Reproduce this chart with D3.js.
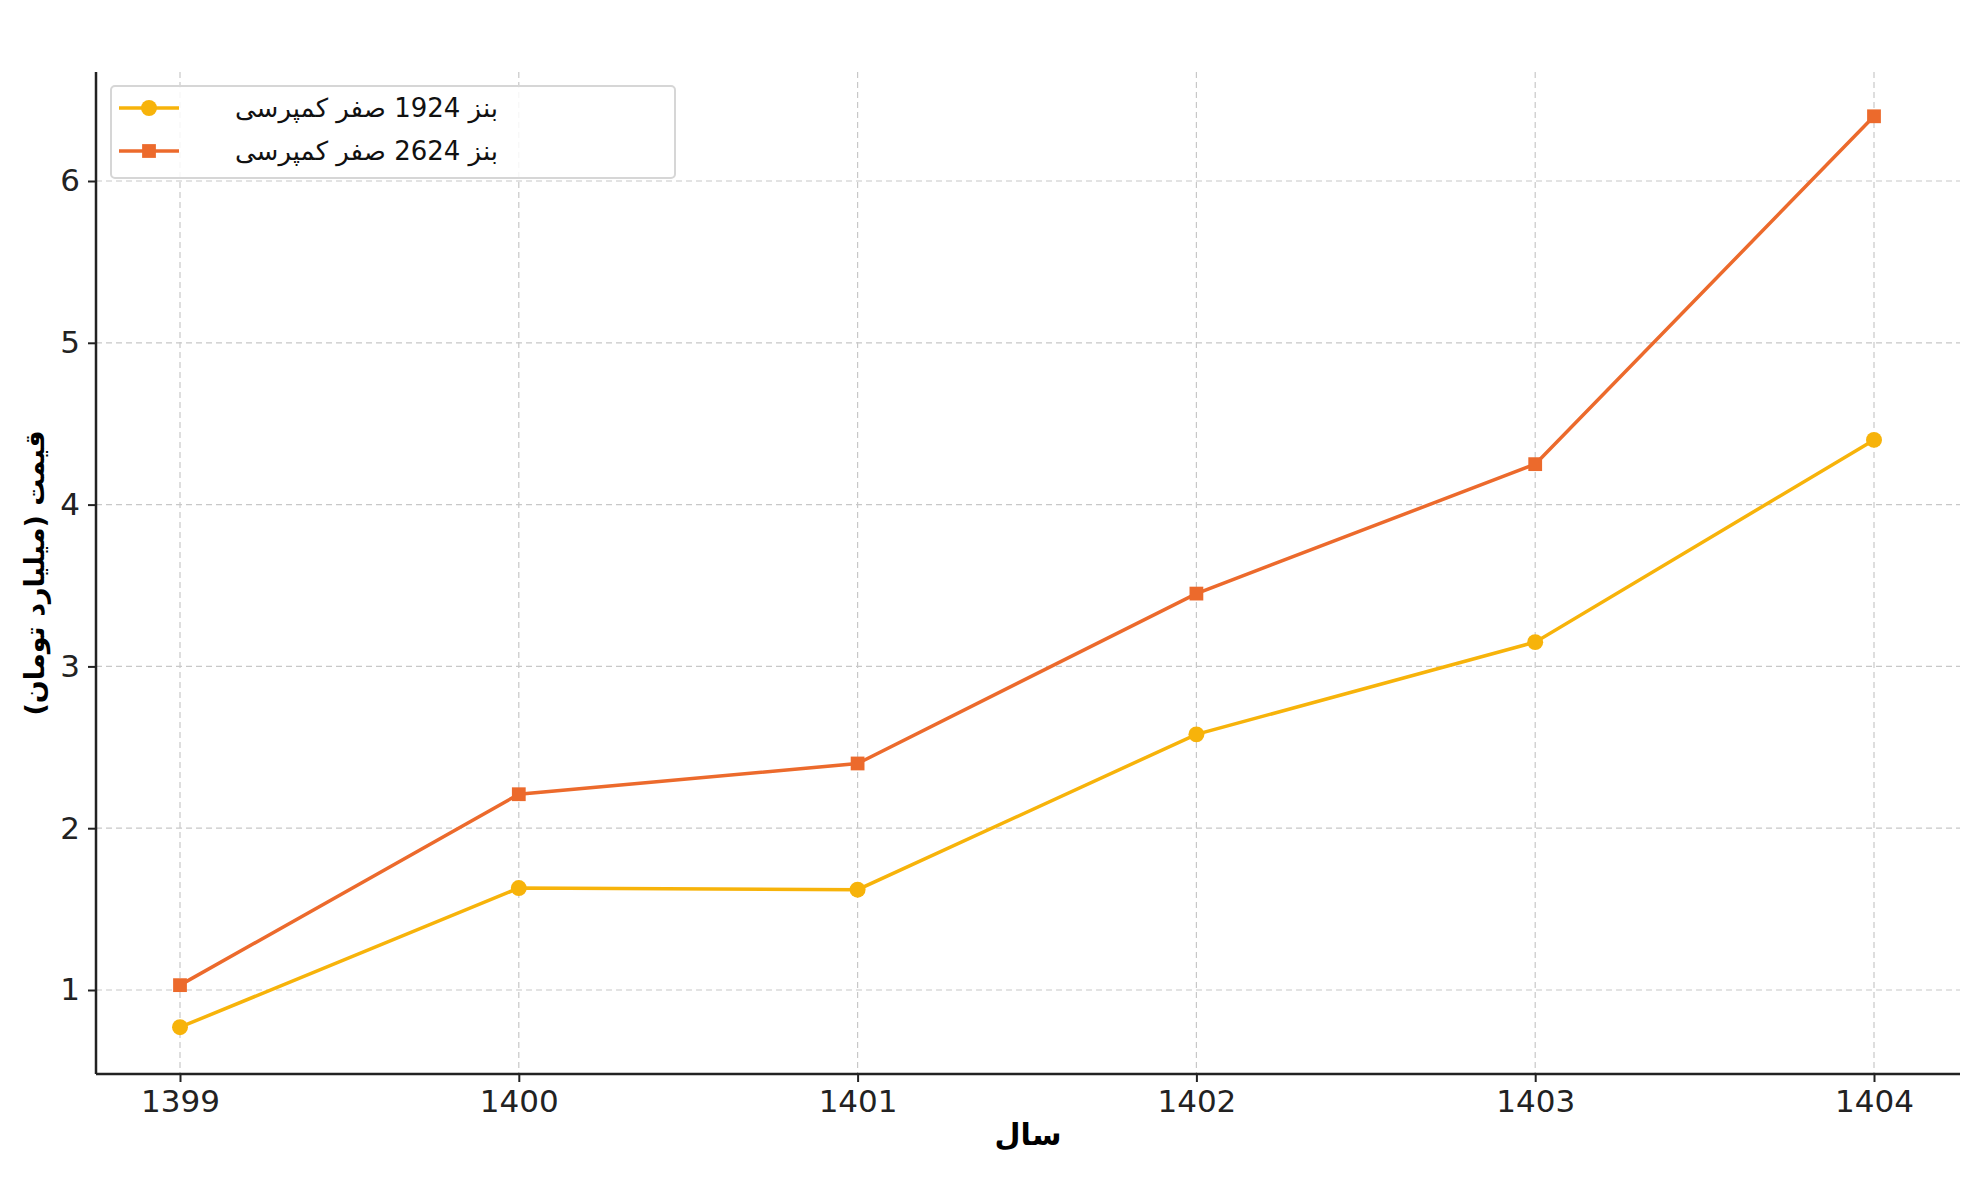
<!DOCTYPE html>
<html><head><meta charset="utf-8">
<script src="https://cdn.jsdelivr.net/npm/d3@7"></script>
<style>body{margin:0;background:#fff}text{font-family:"DejaVu Sans",sans-serif}</style>
</head><body><svg id="c" width="1979" height="1180"></svg>
<script>
var years = [1399, 1400, 1401, 1402, 1403, 1404];
var benz1924 = [0.77, 1.63, 1.62, 2.58, 3.15, 4.40];
var benz2624 = [1.03, 2.21, 2.40, 3.45, 4.25, 6.40];
var yTicks = [1, 2, 3, 4, 5, 6];
var labels = ["بنز 1924 صفر کمپرسی", "بنز 2624 صفر کمپرسی"];

var svg = d3.select("#c");
var L = 96, R = 1960, T = 72, B = 1074;
var x = d3.scaleLinear().domain([1399, 1404]).range([180, 1874]);
var y = d3.scaleLinear().domain([1, 6]).range([990, 181]);

// grid
svg.append("g").selectAll("line").data(years).join("line")
  .attr("x1", d => x(d)).attr("x2", d => x(d)).attr("y1", T).attr("y2", B)
  .attr("stroke", "#c8c8c8").attr("stroke-dasharray", "6,4").attr("stroke-width", 1.2);
svg.append("g").selectAll("line").data(yTicks).join("line")
  .attr("y1", d => y(d)).attr("y2", d => y(d)).attr("x1", L).attr("x2", R)
  .attr("stroke", "#c8c8c8").attr("stroke-dasharray", "6,4").attr("stroke-width", 1.2);

// axes
var xa = svg.append("g").attr("transform", "translate(0," + B + ")")
  .call(d3.axisBottom(x).tickValues(years).tickFormat(d3.format("d")).tickSizeOuter(0).tickSize(8).tickPadding(8));
var ya = svg.append("g").attr("transform", "translate(" + L + ",0)")
  .call(d3.axisLeft(y).tickValues(yTicks).tickFormat(d3.format("d")).tickSizeOuter(0).tickSize(8).tickPadding(8));
[xa, ya].forEach(a => {
  a.select(".domain").attr("stroke", "#222").attr("stroke-width", 2.5);
  a.selectAll("text").attr("font-size", 31).attr("fill", "#222");
  a.selectAll(".tick line").attr("stroke", "#222").attr("stroke-width", 2);
});
xa.select(".domain").attr("d", "M" + L + ",0H" + R);
ya.select(".domain").attr("d", "M0," + T + "V" + B);

svg.append("text").attr("x", (L + R) / 2).attr("y", 1145).attr("text-anchor", "middle")
  .attr("font-size", 30).attr("font-weight", "bold").text("سال");
svg.append("text").attr("transform", "translate(44," + (T + B) / 2 + ") rotate(-90)")
  .attr("text-anchor", "middle").attr("font-size", 27).attr("font-weight", "bold").text("قیمت (میلیارد تومان)");

var series = [{v: benz1924, c: "#f7b30a", m: "circle"}, {v: benz2624, c: "#ec6a2c", m: "square"}];
var line = d3.line().x((d, i) => x(years[i])).y(d => y(d));
series.forEach(s => {
  svg.append("path").attr("d", line(s.v)).attr("fill", "none").attr("stroke", s.c).attr("stroke-width", 3.5);
  svg.append("g").selectAll("path").data(s.v).join("path")
    .attr("transform", (d, i) => "translate(" + x(years[i]) + "," + y(d) + ")")
    .attr("d", d3.symbol().type(s.m == "circle" ? d3.symbolCircle : d3.symbolSquare).size(s.m == "circle" ? 200 : 190))
    .attr("fill", s.c);
});

// legend
var lg = svg.append("g");
lg.append("rect").attr("x", 111).attr("y", 86).attr("width", 564).attr("height", 92).attr("rx", 4)
  .attr("fill", "#fff").attr("fill-opacity", 0.85).attr("stroke", "#d6d6d6").attr("stroke-width", 2);
series.forEach((s, i) => {
  var cy = 108 + i * 43;
  lg.append("line").attr("x1", 119).attr("x2", 179).attr("y1", cy).attr("y2", cy).attr("stroke", s.c).attr("stroke-width", 3.5);
  lg.append("path").attr("transform", "translate(149," + cy + ")")
    .attr("d", d3.symbol().type(s.m == "circle" ? d3.symbolCircle : d3.symbolSquare).size(s.m == "circle" ? 200 : 190))
    .attr("fill", s.c);
  lg.append("text").attr("x", 498).attr("y", cy + 9).attr("text-anchor", "start").attr("direction", "rtl")
    .attr("font-size", 26).attr("fill", "#111").text(labels[i]);
});
</script></body></html>
